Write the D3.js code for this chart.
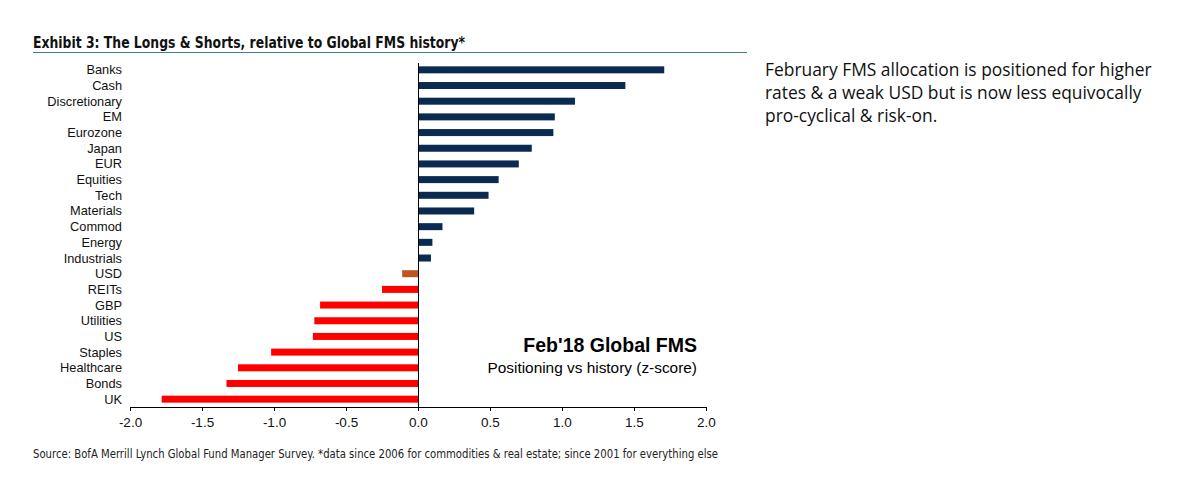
<!DOCTYPE html>
<html>
<head>
<meta charset="utf-8">
<script src="https://cdnjs.cloudflare.com/ajax/libs/d3/7.8.5/d3.min.js"></script>
<style>
  body { margin: 0; background: #fff; }
  svg { display: block; }
</style>
</head>
<body>
<script>
// categories, top to bottom
var categories = ["Banks", "Cash", "Discretionary", "EM", "Eurozone", "Japan", "EUR", "Equities",
    "Tech", "Materials", "Commod", "Energy", "Industrials", "USD", "REITs", "GBP", "Utilities",
    "US", "Staples", "Healthcare", "Bonds", "UK"];

// z-score values
var zscores = [1.71, 1.44, 1.09, 0.95, 0.94, 0.79, 0.70, 0.56, 0.49, 0.39, 0.17, 0.10, 0.09,
    -0.11, -0.25, -0.68, -0.72, -0.73, -1.02, -1.25, -1.33, -1.78];

var xTicks = [-2.0, -1.5, -1.0, -0.5, 0.0, 0.5, 1.0, 1.5, 2.0];

window.onload = drawChart();

function drawChart(){
    var width = 1181,
        height = 481;

    var svg = d3.select("body")
        .append("svg")
        .attr("width", width)
        .attr("height", height);

    // title + rule
    svg.append("text")
        .attr("x", 33)
        .attr("y", 48)
        .attr("font-family", "'DejaVu Sans Condensed', sans-serif")
        .attr("font-weight", "bold")
        .attr("font-size", 15)
        .attr("textLength", 432)
        .attr("lengthAdjust", "spacingAndGlyphs")
        .attr("fill", "#111")
        .text("Exhibit 3: The Longs & Shorts, relative to Global FMS history*");

    svg.append("line")
        .attr("x1", 33).attr("x2", 747)
        .attr("y1", 52.5).attr("y2", 52.5)
        .attr("stroke", "#4a72a8")
        .attr("stroke-width", 1);

    var data = categories.map(function(c, i){ return {name: c, value: zscores[i]}; });

    var x = d3.scaleLinear()
        .domain([-2, 2])
        .range([130, 706]);

    var y = d3.scaleBand()
        .domain(categories)
        .range([62, 407])
        .paddingInner(0.6)
        .paddingOuter(0.3);

    // bars
    svg.selectAll(".bar")
        .data(data)
        .enter()
        .append("rect")
        .attr("class", "bar")
        .attr("x", function(d){ return x(Math.min(0, d.value)); })
        .attr("y", function(d){ return y(d.name) + y.bandwidth() / 2 - 3.5; })
        .attr("width", function(d){ return Math.abs(x(d.value) - x(0)); })
        .attr("height", 7)
        .attr("fill", function(d){
            if (d.name === "USD") return "#c0531e";
            return d.value >= 0 ? "#0b2a52" : "#ff0000";
        });

    // category labels
    svg.selectAll(".cat")
        .data(data)
        .enter()
        .append("text")
        .attr("class", "cat")
        .attr("x", 122)
        .attr("y", function(d){ return y(d.name) + y.bandwidth() / 2; })
        .attr("dy", "0.35em")
        .attr("text-anchor", "end")
        .attr("font-family", "'Liberation Sans', Arial, sans-serif")
        .attr("font-size", 12.8)
        .attr("fill", "#111")
        .text(function(d){ return d.name; });

    // zero line
    svg.append("line")
        .attr("x1", x(0) + 0.5).attr("x2", x(0) + 0.5)
        .attr("y1", 63).attr("y2", 407)
        .attr("stroke", "#000")
        .attr("stroke-width", 1);

    // x axis
    var xAxis = d3.axisBottom(x)
        .tickValues(xTicks)
        .tickFormat(function(d){ return d3.format(".1f")(d).replace("−", "-"); })
        .tickSize(4)
        .tickSizeOuter(0);

    var gx = svg.append("g")
        .attr("transform", "translate(0,407)")
        .call(xAxis);
    gx.select(".domain").attr("stroke", "#000");
    gx.selectAll(".tick line").attr("stroke", "#000");
    gx.selectAll(".tick text")
        .attr("y", 10)
        .attr("font-family", "'Liberation Sans', Arial, sans-serif")
        .attr("font-size", 13.5)
        .attr("fill", "#111");

    // in-chart legend text
    svg.append("text")
        .attr("x", 697)
        .attr("y", 352)
        .attr("text-anchor", "end")
        .attr("font-family", "'Liberation Sans', Arial, sans-serif")
        .attr("font-weight", "bold")
        .attr("font-size", 19.5)
        .attr("fill", "#000")
        .text("Feb'18 Global FMS");

    svg.append("text")
        .attr("x", 697)
        .attr("y", 373)
        .attr("text-anchor", "end")
        .attr("font-family", "'Liberation Sans', Arial, sans-serif")
        .attr("font-size", 15.4)
        .attr("fill", "#000")
        .text("Positioning vs history (z-score)");

    // source
    svg.append("text")
        .attr("x", 33)
        .attr("y", 458)
        .attr("font-family", "'DejaVu Sans Condensed', sans-serif")
        .attr("font-size", 12)
        .attr("textLength", 685)
        .attr("lengthAdjust", "spacingAndGlyphs")
        .attr("fill", "#222")
        .text("Source: BofA Merrill Lynch Global Fund Manager Survey. *data since 2006 for commodities & real estate; since 2001 for everything else");

    // side commentary
    var side = ["February FMS allocation is positioned for higher",
                "rates & a weak USD but is now less equivocally",
                "pro-cyclical & risk-on."];
    svg.selectAll(".side")
        .data(side)
        .enter()
        .append("text")
        .attr("class", "side")
        .attr("x", 765)
        .attr("y", function(d, i){ return 76 + i * 23; })
        .attr("font-family", "'Open Sans', sans-serif")
        .attr("font-size", 17.4)
        .attr("fill", "#111")
        .text(function(d){ return d; });
}
</script>
</body>
</html>
